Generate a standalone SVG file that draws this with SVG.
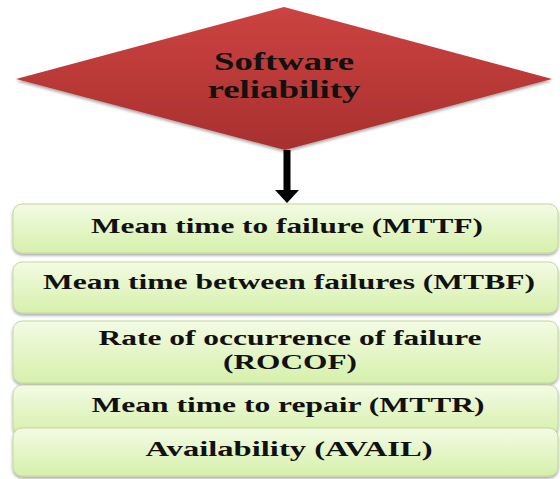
<svg xmlns="http://www.w3.org/2000/svg" width="560" height="479" viewBox="0 0 560 479">
  <defs>
    <linearGradient id="redGrad" x1="0" y1="0" x2="0" y2="1">
      <stop offset="0" stop-color="#cc4341"/>
      <stop offset="1" stop-color="#a8302e"/>
    </linearGradient>
    <linearGradient id="greenGrad" x1="0" y1="0" x2="0" y2="1">
      <stop offset="0" stop-color="#f3fbe4"/>
      <stop offset="1" stop-color="#d6f0ab"/>
    </linearGradient>
    <filter id="shadow" x="-5%" y="-10%" width="110%" height="130%">
      <feGaussianBlur in="SourceAlpha" stdDeviation="1.5"/>
      <feOffset dx="0" dy="2" result="b"/>
      <feComponentTransfer><feFuncA type="linear" slope="0.35"/></feComponentTransfer>
      <feMerge><feMergeNode/><feMergeNode in="SourceGraphic"/></feMerge>
    </filter>
  </defs>
  <style>
    .box { fill: url(#greenGrad); stroke: #c3d89c; stroke-width: 1; filter: url(#shadow); }
    .lbl { font-family: "Liberation Serif", "Times New Roman", serif; font-weight: bold; font-size: 21px; fill: #111; text-anchor: middle; }
    .lbl2 { font-family: "Liberation Serif", "Times New Roman", serif; font-weight: bold; font-size: 20px; fill: #111; text-anchor: middle; }
    .dlbl { font-family: "Liberation Serif", "Times New Roman", serif; font-weight: bold; font-size: 26px; fill: #111; text-anchor: middle; }
  </style>

  <g id="connectors">
    <line x1="287" y1="150" x2="287" y2="191" stroke="#000" stroke-width="7"/>
    <path d="M275,190 L299,190 L287,203 Z" fill="#000"/>
  </g>

  <g id="node-reliability">
    <polygon points="284,7 552,79 285,150 16,79" fill="url(#redGrad)" filter="url(#shadow)"/>
    <text class="dlbl" x="284" y="70" textLength="140" lengthAdjust="spacingAndGlyphs">Software</text>
    <text class="dlbl" x="284" y="98" textLength="153" lengthAdjust="spacingAndGlyphs">reliability</text>
  </g>

  <g id="node-mttf">
    <rect class="box" x="13" y="204" width="545" height="49" rx="9"/>
    <text class="lbl" x="287" y="233" textLength="392" lengthAdjust="spacingAndGlyphs">Mean time to failure (MTTF)</text>
  </g>

  <g id="node-mtbf">
    <rect class="box" x="13" y="262" width="545" height="51" rx="9"/>
    <text class="lbl" x="289" y="289" textLength="492" lengthAdjust="spacingAndGlyphs">Mean time between failures (MTBF)</text>
  </g>

  <g id="node-rocof">
    <rect class="box" x="13" y="321" width="545" height="62" rx="9"/>
    <text class="lbl2" x="290" y="345" textLength="383" lengthAdjust="spacingAndGlyphs">Rate of occurrence of failure</text>
    <text class="lbl2" x="290" y="369" textLength="134" lengthAdjust="spacingAndGlyphs">(ROCOF)</text>
  </g>

  <g id="node-mttr">
    <rect class="box" x="13" y="385" width="545" height="50" rx="9"/>
    <text class="lbl" x="288" y="412" textLength="393" lengthAdjust="spacingAndGlyphs">Mean time to repair (MTTR)</text>
  </g>

  <g id="node-avail">
    <rect class="box" x="13" y="428" width="545" height="48" rx="9"/>
    <text class="lbl" x="289" y="456" textLength="287" lengthAdjust="spacingAndGlyphs">Availability (AVAIL)</text>
  </g>
</svg>
